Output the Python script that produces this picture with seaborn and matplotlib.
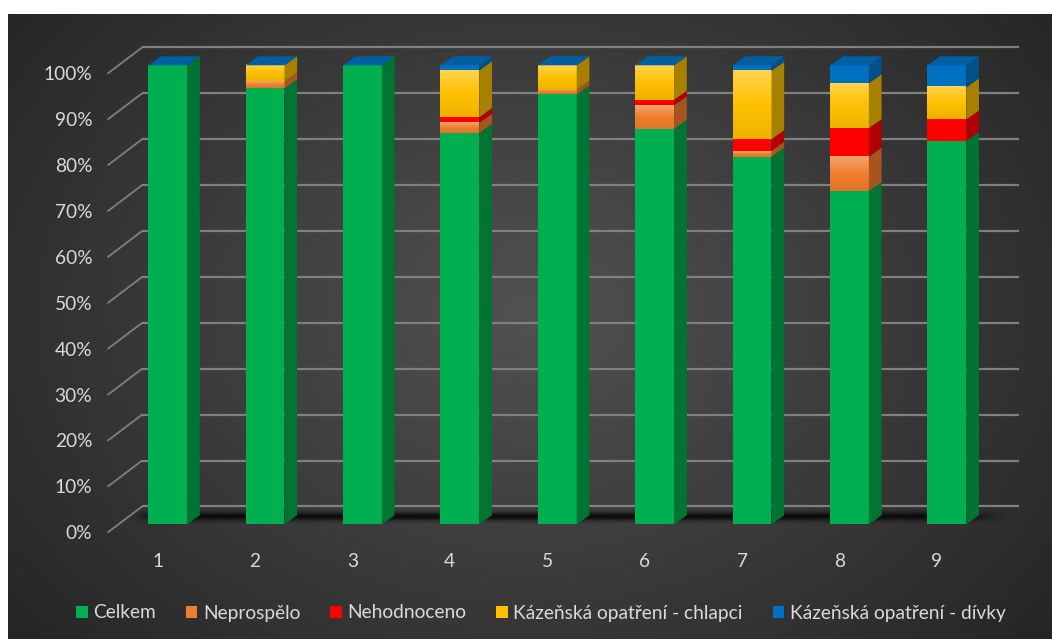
import numpy as np
import matplotlib
matplotlib.use("Agg")
import matplotlib.pyplot as plt
import seaborn as sns
from matplotlib.patches import Polygon, Patch
from matplotlib.lines import Line2D
from matplotlib.transforms import IdentityTransform, ScaledTranslation
from matplotlib.colors import to_rgb

# ---------------- data ----------------
categories = ["1", "2", "3", "4", "5", "6", "7", "8", "9"]
celkem      = [100.0, 95.0, 100.0, 85.3, 93.7, 86.2, 80.1, 72.6, 83.5]
neprospelo  = [0.0, 1.5, 0.0, 2.2, 1.0, 5.1, 1.3, 7.5, 0.0]
nehodnoceno = [0.0, 0.0, 0.0, 1.2, 0.0, 1.2, 2.5, 6.2, 4.7]
kaz_chlapci = [0.0, 3.5, 0.0, 10.2, 5.3, 7.5, 14.9, 9.8, 7.0]
kaz_divky   = [0.0, 0.0, 0.0, 1.1, 0.0, 0.0, 1.2, 3.9, 4.8]
series_names = ["Celkem", "Neprospělo", "Nehodnoceno",
                "Kázeňská opatření - chlapci", "Kázeňská opatření - dívky"]
y_ticks = [0, 10, 20, 30, 40, 50, 60, 70, 80, 90, 100]
y_tick_labels = ["0%", "10%", "20%", "30%", "40%", "50%", "60%", "70%", "80%", "90%", "100%"]

# ---------------- style ----------------
front_colors = ["#00B050", "#F07E2E", "#FF0000", "#FFC000", "#0070C0"]
side_colors  = ["#007533", "#A6551E", "#B00000", "#A88000", "#00508A"]
top_color = "#005FA3"
grid_color = "#808080"
text_color = "#D9D9D9"

W, H = 1052, 639
sns.set_theme(style="white")
plt.rcParams["font.family"] = ["Lato", "DejaVu Sans"]
FS = 13.8

fig = plt.figure(figsize=(W / 100, H / 100), dpi=100, facecolor="white")

# background radial gradient
bg = fig.add_axes([8 / W, 0, 1 - 8 / W, (H - 14) / H])
bg.set_axis_off()
yy, xx = np.mgrid[0:1:300j, 0:1:500j]
r = np.sqrt(((xx - 0.5) / 0.62) ** 2 + ((yy - 0.52) / 0.78) ** 2)
val = 0.32 - 0.175 * np.clip(r / 1.05, 0, 1)
bg.imshow(np.dstack([val, val, val]), extent=[0, 1, 0, 1], aspect="auto", origin="lower")
bg.set_xlim(0, 1)
bg.set_ylim(0, 1)

# geometry (pixels): bar front-face plane
px0, pxs = 167.6, 97.4     # x pixel of category 0, pixels per category
py0, pys = 524.3, 4.59     # y pixel of 0 %, pixels per %
xlo, xhi, ylo, yhi = -0.8, 8.8, -3, 108
left_px = px0 + xlo * pxs
right_px = px0 + xhi * pxs
bot_px = py0 - ylo * pys
top_px = py0 - yhi * pys
pos = [left_px / W, 1 - bot_px / H, (right_px - left_px) / W, (bot_px - top_px) / H]
ax = fig.add_axes(pos)
ax.patch.set_alpha(0)

# front "axis plane" for tick labels (shifted left 10px, down 8px)
axf = fig.add_axes([pos[0] - 10 / W, pos[1] - 8 / H, pos[2], pos[3]])
axf.patch.set_alpha(0)
axf.set_xlim(xlo, xhi)
axf.set_ylim(ylo, yhi)
axf.set_yticks(y_ticks, y_tick_labels)
axf.set_xticks(range(len(categories)), categories)
axf.tick_params(axis="y", length=0, pad=-9, labelsize=FS, labelcolor=text_color)
axf.tick_params(axis="x", length=0, pad=5, labelsize=FS, labelcolor=text_color)
for s in axf.spines.values():
    s.set_visible(False)

# stacked bars (front faces) via seaborn
values = np.array([celkem, neprospelo, nehodnoceno, kaz_chlapci, kaz_divky])
cum = np.cumsum(values, axis=0)
BW = 0.4
for j in range(len(series_names) - 1, -1, -1):
    sns.barplot(x=categories, y=cum[j], color=front_colors[j], width=BW,
                saturation=1, linewidth=0, ax=ax, zorder=5)

ax.set_xlim(xlo, xhi)
ax.set_ylim(ylo, yhi)
ax.set_xticks([])
ax.set_yticks([])
ax.set_xlabel("")
ax.set_ylabel("")
for s in ax.spines.values():
    s.set_visible(False)

fig.canvas.draw()
T = ax.transData
ID = IdentityTransform()

# back wall gridlines
WDX, WDY = 13, 17.8
t_back = T + ScaledTranslation(WDX / 100, WDY / 100, fig.dpi_scale_trans)
gx0 = (142 - WDX - px0) / pxs
gx1 = (1019 - WDX - px0) / pxs
ax.hlines(y_ticks, gx0, gx1, colors=grid_color, linewidth=1.6, transform=t_back, zorder=1)

# left diagonal connectors (front axis plane -> back wall)
xdf = (108 - px0) / pxs
for v in y_ticks:
    p_front = T.transform((xdf, v)) + np.array([0, -8.0])
    p_back = t_back.transform((gx0, v))
    ax.add_line(Line2D([p_front[0], p_back[0]], [p_front[1], p_back[1]],
                       color=grid_color, linewidth=1.3, transform=ID, zorder=1))

# floor shadow band
sh_y = np.linspace(0, 3.6, 60)[:, None]
sh_x = np.linspace(0, 1, 400)[None, :]
alpha = 0.8 * np.exp(-((sh_y - 1.6) / 0.9) ** 2) * np.clip(sh_x / 0.03, 0, 1) * np.clip((1 - sh_x) / 0.06, 0, 1)
shadow = np.zeros((60, 400, 4))
shadow[..., 3] = alpha
ax.imshow(shadow, extent=[-0.38, 8.62, 0, 3.6], origin="lower", aspect="auto",
          zorder=2, interpolation="bilinear")
ax.set_xlim(xlo, xhi)
ax.set_ylim(ylo, yhi)

# gradients on orange / yellow front faces
def grad_cmap(base):
    b = np.array(to_rgb(base))
    light = b + (1 - b) * 0.3
    dark = b * 0.93
    t = np.linspace(0, 1, 50)[:, None]
    top = np.where(t < 0.5, light + (b - light) * (t / 0.5), b + (dark - b) * ((t - 0.5) / 0.5))
    return top[::-1]  # origin lower -> bottom first

for j in (1, 3):
    g = grad_cmap(front_colors[j])[:, None, :]
    for i in range(len(categories)):
        h = values[j, i]
        if h <= 0:
            continue
        b0 = cum[j, i] - h
        ax.imshow(g, extent=[i - BW / 2, i + BW / 2, b0, cum[j, i]], origin="lower",
                  aspect="auto", zorder=6, interpolation="bilinear")
ax.set_xlim(xlo, xhi)
ax.set_ylim(ylo, yhi)

# 3D side and top faces
DX, DY = 12.7, 9.0
for i in range(len(categories)):
    for j in range(len(series_names)):
        h = values[j, i]
        if h <= 0:
            continue
        b0, t0 = cum[j, i] - h, cum[j, i]
        p1 = T.transform((i + BW / 2, b0))
        p2 = T.transform((i + BW / 2, t0))
        poly = [p1, p2, p2 + [DX, DY], p1 + [DX, DY]]
        ax.add_patch(Polygon(poly, closed=True, facecolor=side_colors[j],
                             edgecolor="none", transform=ID, zorder=7))
    top = cum[-1, i]
    q1 = T.transform((i - BW / 2, top))
    q2 = T.transform((i + BW / 2, top))
    ax.add_patch(Polygon([q1, q2, q2 + [DX, DY], q1 + [DX, DY]], closed=True,
                         facecolor=top_color, edgecolor="none", transform=ID, zorder=7))

# legend
handles = [Patch(facecolor=c, edgecolor="none") for c in front_colors]
fig.legend(handles, series_names, loc="center", bbox_to_anchor=(541 / W, 1 - 613 / H),
           ncol=5, frameon=False, fontsize=FS, labelcolor=text_color,
           handlelength=0.6, handleheight=0.6, handletextpad=0.3, columnspacing=1.55)

fig.savefig("out.png", dpi=100, facecolor=fig.get_facecolor())
